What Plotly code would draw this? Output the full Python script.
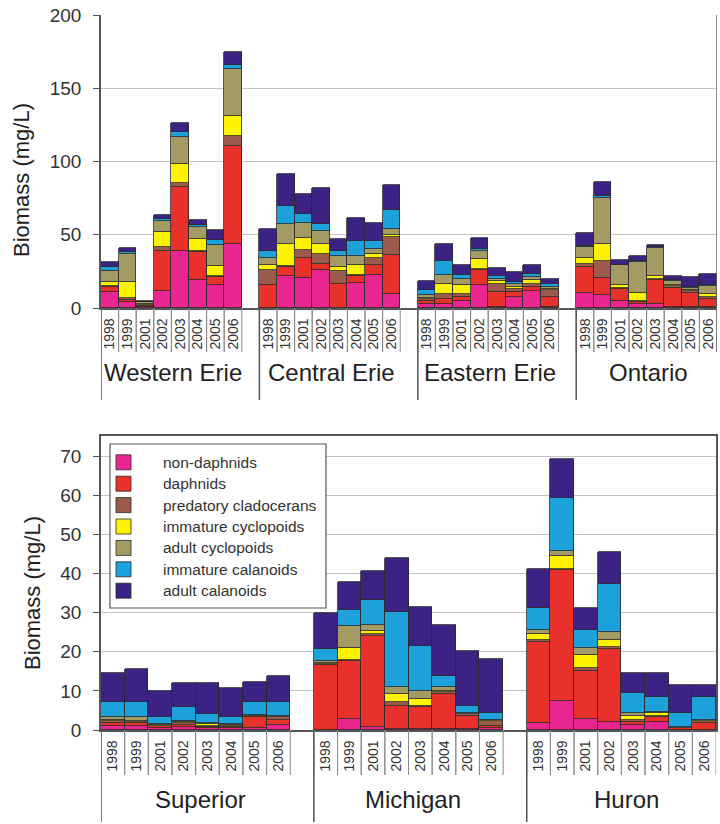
import plotly.graph_objects as go

W, H = 720, 824

years = ["1998", "1999", "2001", "2002", "2003", "2004", "2005", "2006"]
top_groups = ["Western Erie", "Central Erie", "Eastern Erie", "Ontario"]
bottom_groups = ["Superior", "Michigan", "Huron"]

components = ["non-daphnids", "daphnids", "predatory cladocerans", "immature cyclopoids",
              "adult cyclopoids", "immature calanoids", "adult calanoids"]
colors = ["#E9268F", "#E8312A", "#9B5A4B", "#FFF200", "#A39B63", "#1CA1DB", "#3B2283"]

# ---- top chart (Lake Erie basins and Ontario), mg/L ----
top_non_daphnids = [10.7, 3.9, 1.0, 11.4, 39.1, 19.1, 15.9, 43.7,
                    0, 21.8, 20.5, 25.7, 0, 17.1, 22.8, 9.8,
                    3.0, 3.0, 4.6, 15.5, 0.5, 7.5, 11.4, 0.5,
                    10.2, 8.9, 5.0, 2.7, 2.7, 0.9, 0.9, 0.9]
top_daphnids = [3.4, 1.6, 0.6, 27.3, 43.3, 18.9, 5.5, 67.1,
                15.5, 6.2, 13.9, 4.6, 16.2, 4.7, 6.3, 26.2,
                1.6, 3.4, 2.9, 10.2, 10.4, 3.4, 2.9, 7.0,
                17.6, 11.6, 8.0, 1.2, 16.6, 12.8, 9.1, 5.2]
top_predatory = [1.1, 1.1, 0.5, 2.7, 2.6, 1.0, 0.6, 6.8,
                 10.7, 1.0, 5.0, 6.8, 9.1, 0.5, 5.0, 12.5,
                 1.8, 3.4, 2.3, 1.1, 5.7, 2.3, 1.9, 5.0,
                 2.2, 11.8, 0.7, 0.6, 0.7, 1.5, 1.8, 1.2]
top_imm_cyclopoids = [2.8, 10.9, 0.6, 10.2, 13.3, 8.0, 7.0, 13.7,
                      2.9, 14.9, 8.6, 6.8, 2.7, 6.8, 3.0, 1.5,
                      0.6, 6.8, 5.7, 6.9, 1.6, 1.1, 2.7, 0.7,
                      4.1, 11.4, 2.2, 5.5, 2.0, 0.4, 0.2, 2.3]
top_adult_cyclopoids = [7.0, 19.4, 1.2, 8.0, 18.2, 8.0, 14.2, 31.8,
                        5.3, 13.7, 10.2, 8.4, 7.5, 6.4, 2.9, 4.2,
                        1.6, 5.7, 4.5, 5.2, 1.8, 1.9, 2.3, 1.1,
                        7.3, 31.3, 13.4, 21.6, 19.0, 3.1, 1.7, 5.6]
top_imm_calanoids = [2.8, 1.1, 0.4, 1.2, 3.5, 2.0, 3.2, 2.8,
                     4.5, 11.8, 6.2, 5.3, 3.4, 10.0, 5.5, 12.5,
                     3.9, 9.6, 2.3, 1.6, 1.8, 1.5, 2.2, 2.3,
                     1.1, 1.5, 0.3, 0.3, 0.4, 0.3, 0.3, 0.3]
top_adult_calanoids = [3.8, 3.0, 0.7, 2.7, 6.0, 3.0, 6.8, 8.6,
                       14.8, 21.8, 13.6, 24.3, 8.4, 15.9, 12.5, 17.0,
                       5.9, 11.6, 7.3, 7.5, 5.7, 6.9, 5.7, 3.0,
                       8.5, 9.5, 3.4, 3.8, 1.8, 3.0, 7.4, 7.7]

# ---- bottom chart (Superior, Michigan, Huron), mg/L ----
bot_non_daphnids = [1.0, 1.0, 0.4, 0.7, 0.4, 0.4, 0.4, 1.4,
                    0, 2.8, 0.7, 0.3, 0.2, 0.2, 0.2, 0.5,
                    1.7, 7.4, 2.7, 2.1, 1.3, 2.1, 0, 0]
bot_daphnids = [0.9, 0.7, 0.5, 0.6, 0.3, 0.3, 3.0, 1.2,
                16.5, 14.9, 23.4, 5.9, 5.6, 9.0, 3.5, 0.6,
                20.9, 33.5, 12.5, 18.5, 0.8, 1.1, 0.4, 1.7]
bot_predatory = [0.4, 0.3, 0.2, 0.4, 0.3, 0.3, 0.2, 0.6,
                 0.3, 0.2, 0.5, 0.9, 0.4, 0.4, 0.4, 1.3,
                 0.4, 0.4, 0.6, 0.7, 0.5, 0.4, 0.1, 0.7]
bot_imm_cyclopoids = [0.3, 0.3, 0.2, 0.3, 0.5, 0.3, 0.1, 0.2,
                      0.4, 3.2, 0.8, 2.1, 1.7, 0.3, 0.1, 0.1,
                      1.5, 3.2, 3.4, 1.7, 1.0, 0.7, 0.1, 0.1]
bot_adult_cyclopoids = [0.8, 1.1, 0.2, 0.3, 0.4, 0.2, 0.1, 0.3,
                        0.4, 5.6, 1.5, 1.9, 2.2, 1.0, 0.1, 0.1,
                        1.2, 1.4, 1.7, 2.1, 0.7, 0.4, 0.1, 0.1]
bot_imm_calanoids = [3.8, 3.8, 1.7, 3.7, 2.1, 1.9, 3.4, 3.5,
                     3.1, 4.0, 6.3, 19.2, 11.5, 3.0, 1.9, 1.7,
                     5.6, 13.5, 4.7, 12.2, 5.1, 3.7, 3.6, 5.8]
bot_adult_calanoids = [7.5, 8.3, 6.9, 6.1, 7.9, 7.3, 5.2, 6.6,
                       9.3, 7.1, 7.4, 13.6, 9.8, 13.0, 13.9, 13.9,
                       10.0, 9.8, 5.7, 8.3, 5.1, 6.3, 7.2, 3.1]

top_series = [top_non_daphnids, top_daphnids, top_predatory, top_imm_cyclopoids,
              top_adult_cyclopoids, top_imm_calanoids, top_adult_calanoids]
bot_series = [bot_non_daphnids, bot_daphnids, bot_predatory, bot_imm_cyclopoids,
              bot_adult_cyclopoids, bot_imm_calanoids, bot_adult_calanoids]

SLOT = len(years) + 1  # one empty slot between groups


def positions(groups):
    return [g * SLOT + i for g in range(len(groups)) for i in range(len(years))]


top_x = positions(top_groups)
bot_x = positions(bottom_groups)
top_labels = [y for _ in top_groups for y in years]
bot_labels = [y for _ in bottom_groups for y in years]

FONT = "Liberation Sans, Arial, sans-serif"
fig = go.Figure()

for name, col, vals in zip(components, colors, top_series):
    fig.add_trace(go.Bar(x=top_x, y=vals, name=name, marker_color=col,
                         marker_line=dict(color="#2a2a2a", width=0.8),
                         xaxis="x", yaxis="y", showlegend=False, width=1.0))
for name, col, vals in zip(components, colors, bot_series):
    fig.add_trace(go.Bar(x=bot_x, y=vals, name=name, marker_color=col,
                         marker_line=dict(color="#2a2a2a", width=0.8),
                         xaxis="x2", yaxis="y2", showlegend=False, width=1.0))


def py(px):
    return 1 - px / H


top_dom = [py(308), py(15)]
bot_dom = [py(730), py(436)]

xaxis_common = dict(showgrid=False, zeroline=False, ticks="", tickangle=-90,
                    tickfont=dict(size=14, color="#333", family=FONT),
                    showline=True, linecolor="#555", linewidth=1.5,
                    automargin=False, ticklabelstandoff=3)
yaxis_common = dict(ticks="outside", ticklen=6, tickcolor="#555", tickwidth=1.2,
                    tickfont=dict(size=19, color="#333", family=FONT), ticklabelstandoff=8,
                    showgrid=True, gridcolor="#c4c4c4", gridwidth=1.2, zeroline=False,
                    showline=True, linecolor="#555", linewidth=1.5, automargin=False)

fig.update_layout(
    width=W, height=H, margin=dict(l=0, r=0, t=0, b=0, pad=0, autoexpand=False),
    paper_bgcolor="white", plot_bgcolor="white",
    barmode="stack", bargap=0,
    font=dict(family=FONT, color="#333"),
    xaxis=dict(domain=[101 / W, 717 / W], range=[-0.5, len(top_groups) * SLOT - 1 - 0.5],
               tickvals=top_x, ticktext=top_labels, anchor="y", **xaxis_common),
    yaxis=dict(domain=top_dom, range=[0, 200], tickvals=[0, 50, 100, 150, 200],
               anchor="x", **yaxis_common),
    xaxis2=dict(domain=[101 / W, 716 / W], range=[-0.5, len(bottom_groups) * SLOT - 1 - 0.5],
                tickvals=bot_x, ticktext=bot_labels, anchor="y2", mirror=True, **xaxis_common),
    yaxis2=dict(domain=bot_dom, range=[0, 75.2], tickvals=[0, 10, 20, 30, 40, 50, 60, 70],
                mirror=True, anchor="x2", **yaxis_common),
)

shapes = []
annotations = []


def add_cells(xref, groups, xs, axis_px, year_bottom_px, group_bottom_px, label_px, label_dx):
    for x in xs:
        for edge in (x - 0.5, x + 0.5):
            shapes.append(dict(type="line", xref=xref, yref="paper", x0=edge, x1=edge,
                               y0=py(axis_px), y1=py(year_bottom_px),
                               line=dict(color="#8a8a8a", width=1)))
    for g, name in enumerate(groups):
        start = g * SLOT - 0.5
        shapes.append(dict(type="line", xref=xref, yref="paper", x0=start, x1=start,
                           y0=py(axis_px), y1=py(group_bottom_px),
                           line=dict(color="#555", width=1.5)))
        annotations.append(dict(text=name, xref=xref, yref="paper",
                                x=g * SLOT + (len(years) - 1) / 2 + label_dx, y=py(label_px),
                                showarrow=False, xanchor="center", yanchor="middle",
                                font=dict(size=24, color="#222", family=FONT)))


add_cells("x", top_groups, top_x, 308, 352, 400, 372, 0.1)
add_cells("x2", bottom_groups, bot_x, 730, 775, 822, 799, 0.2)

# right border of the top chart
shapes.append(dict(type="line", xref="x", yref="paper",
                   x0=len(top_groups) * SLOT - 1.5, x1=len(top_groups) * SLOT - 1.5,
                   y0=py(15), y1=py(352), line=dict(color="#666", width=1.5)))

# y-axis titles
annotations.append(dict(text="Biomass (mg/L)", xref="paper", yref="paper", x=21 / W, y=py(180),
                        textangle=-90, showarrow=False, xanchor="center", yanchor="middle",
                        font=dict(size=22, color="#222", family=FONT)))
annotations.append(dict(text="Biomass (mg/L)", xref="paper", yref="paper", x=32 / W, y=py(593),
                        textangle=-90, showarrow=False, xanchor="center", yanchor="middle",
                        font=dict(size=22, color="#222", family=FONT)))

# legend box inside the bottom chart
shapes.append(dict(type="rect", xref="paper", yref="paper", x0=110 / W, x1=326 / W,
                   y0=py(608), y1=py(444), line=dict(color="#555", width=1.2),
                   fillcolor="white", layer="above"))
for k, (name, col) in enumerate(zip(components, colors)):
    cy = 462.3 + k * 21.4
    shapes.append(dict(type="rect", xref="paper", yref="paper", x0=116 / W, x1=131 / W,
                       y0=py(cy + 7.5), y1=py(cy - 7.5), fillcolor=col,
                       line=dict(color="#2a2a2a", width=0.8), layer="above"))
    annotations.append(dict(text=name, xref="paper", yref="paper", x=161 / W, y=py(cy),
                            showarrow=False, xanchor="left", yanchor="middle",
                            font=dict(size=15.5, color="#333", family=FONT)))

fig.update_layout(shapes=shapes, annotations=annotations)
fig.write_html("out.html", config={"displayModeBar": False},
               post_script="document.body.style.margin='0';document.body.style.overflow='hidden';")
